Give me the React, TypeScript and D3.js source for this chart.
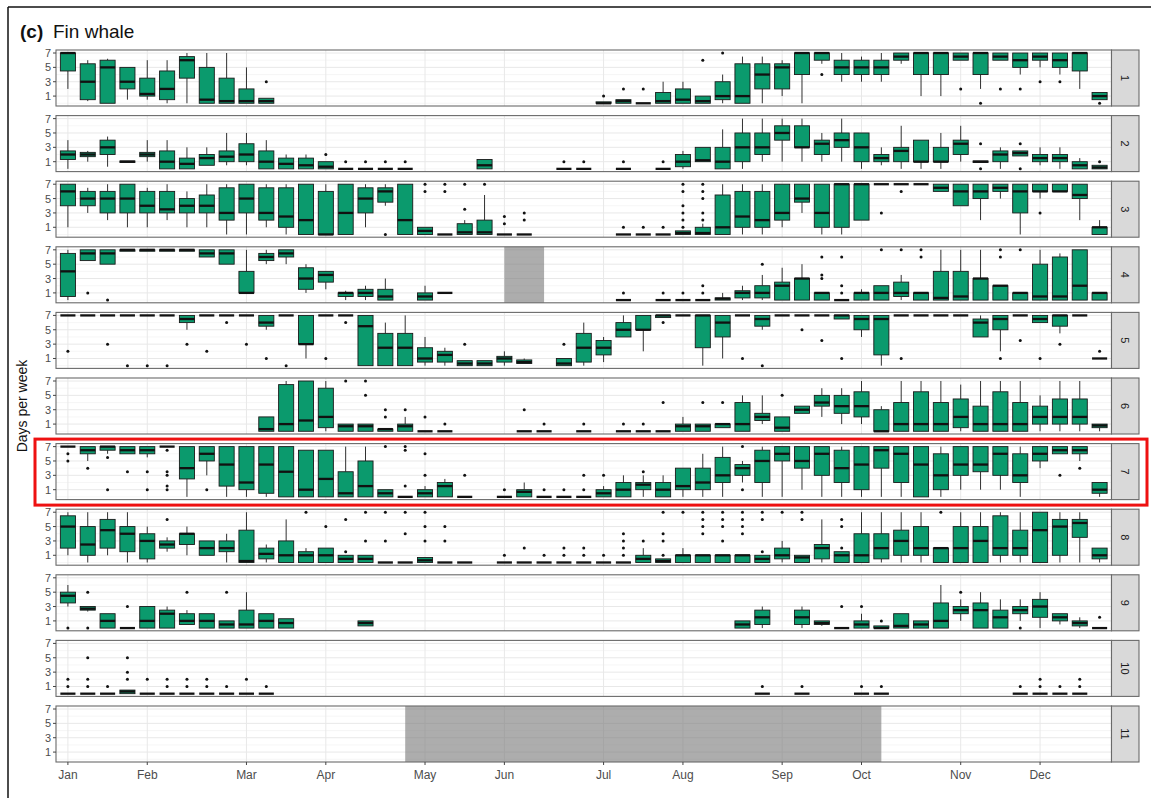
import React from 'react';
import * as d3 from 'd3';

// [week, lowerWhisker, q1, median, q3, upperWhisker, outliers]
type Box = [number, number, number, number, number, number, number[]];

const panel1: Box[] = [
  [0, 2, 4.5, 7, 7, 7, []], [1, 0.3, 0.5, 3, 5.5, 6, []], [2, 0, 0, 5, 6, 6.2, []], [3, 0.5, 2, 3, 5, 5, []],
  [4, 0.5, 1, 1.3, 3.5, 6, []], [5, 0, 0.5, 2, 4.5, 6, []], [6, 0, 3.5, 6, 6.5, 7, []], [7, 0, 0, 0.5, 5, 7, []],
  [8, 0, 0, 0.3, 3.5, 7, []], [9, 0, 0, 0.3, 2, 5, []], [10, 0, 0, 0.3, 0.7, 0.7, [3]],
  [27, 0, 0, 0, 0.2, 0.2, [1]], [28, 0, 0, 0.3, 0.5, 0.5, [2]], [29, 0, 0, 0, 0, 0, [2]], [30, 0, 0, 0.3, 1.5, 3, []],
  [31, 0, 0, 0.5, 2, 3, []], [32, 0, 0, 0.3, 1, 1, [6]], [33, 0, 0.5, 1, 3, 4, [7]], [34, 0, 0, 1, 5.5, 6.5, []],
  [35, 0, 2, 4, 5.5, 6.5, []], [36, 1, 2, 5, 5.5, 6, []], [37, 0, 4, 7, 7, 7, []], [38, 5.5, 6, 7, 7, 7, [4]],
  [39, 3, 4, 5, 6, 7, []], [40, 3, 4, 5, 6, 6.5, []], [41, 3, 4, 5, 6, 7, []], [42, 5.5, 6, 6.5, 7, 7, []],
  [43, 1, 4, 7, 7, 7, []], [44, 1, 4, 7, 7, 7, []], [45, 6, 6, 6.5, 7, 7, [2]], [46, 2, 4, 7, 7, 7, [0]],
  [47, 6, 6, 6.5, 7, 7, [2]], [48, 4, 5, 6, 7, 7, [2]], [49, 5, 6, 6.5, 7, 7, [3]], [50, 4, 5, 6, 7, 7, [3]],
  [51, 2, 4.5, 7, 7, 7, []], [52, 0.5, 0.5, 1, 1.5, 1.5, [0]],
];

const panel2: Box[] = [
  [0, 0, 1.3, 2, 2.5, 4, []], [1, 1, 1.7, 2, 2.3, 2.5, []], [2, 0.3, 2, 3, 4, 4.5, []], [3, 0.9, 0.9, 1, 1.1, 1.1, []],
  [4, 1, 1.7, 2, 2.3, 4, []], [5, 0, 0, 1, 2.5, 4, []], [6, 0, 0, 0.7, 1.5, 3, []], [7, 0.5, 0.5, 1.5, 2, 3, []],
  [8, 0.5, 1, 1.7, 2.5, 5, []], [9, 0.5, 1, 2, 3.5, 5, []], [10, 0, 0, 1, 2.5, 4, []], [11, 0, 0, 0.7, 1.5, 2, []],
  [12, 0, 0, 0.5, 1.5, 2, []], [13, 0, 0, 0.3, 1, 1, [2]], [14, 0, 0, 0, 0, 0, [1]], [15, 0, 0, 0, 0, 0, [1]],
  [16, 0, 0, 0, 0, 0, [1]], [17, 0, 0, 0, 0, 0, [1]], [21, 0, 0, 0.5, 1.3, 1.3, []],
  [25, 0, 0, 0, 0, 0, [1]], [26, 0, 0, 0, 0, 0, [1]], [28, 0, 0, 0, 0, 0, [1]], [30, 0, 0, 0, 0, 0, [1]],
  [31, 0, 0.3, 1, 2, 2.5, []], [32, 1, 1, 1.2, 3, 3, []], [33, 0, 0, 1, 3, 5.5, []], [34, 0, 1, 3, 5, 7, []],
  [35, 1, 2, 3, 5, 7, []], [36, 1, 4, 5, 6, 7, []], [37, 1, 3, 3, 6, 7, []], [38, 1, 2, 3.5, 4, 5, []],
  [39, 1, 3, 4, 5, 7, []], [40, 0, 1, 3, 5, 5, []], [41, 0.5, 1, 1.5, 2, 3, []], [42, 0, 1, 2.5, 3, 6, []],
  [43, 0, 1, 1, 4, 4, []], [44, 0, 1, 1, 3, 5, []], [45, 1, 2, 3.5, 4, 6, []], [46, 0.9, 0.9, 1, 1.1, 1.1, [3.5, 0]],
  [47, 0, 1, 2, 2.5, 3, []], [48, 1.8, 1.8, 2.2, 2.5, 2.5, [3.5, 0]], [49, 0.5, 1, 1.5, 2, 3, []],
  [50, 0, 1, 1.5, 2, 3, []], [51, 0, 0, 0.5, 1, 1.5, []], [52, 0, 0, 0.2, 0.5, 0.5, [1]],
];

const panel3: Box[] = [
  [0, 1, 4, 6, 7, 7, []], [1, 3, 4, 5, 6, 6.5, []], [2, 2, 3, 5, 6, 7, []], [3, 1, 3, 5, 7, 7, []],
  [4, 1, 3, 4, 6, 6.5, []], [5, 2, 3, 3.5, 6, 7, []], [6, 1, 3, 4, 5, 6, []], [7, 1, 3, 4, 5.5, 7, []],
  [8, 0, 2, 3, 6.5, 7, []], [9, 0, 3, 5, 7, 7, []], [10, 1, 2, 3, 6.5, 7, []], [11, 0, 1, 2.5, 6.5, 7, []],
  [12, 0, 0, 2, 7, 7, []], [13, 0, 0, 0, 6, 7, []], [14, 0, 0, 3, 7, 7, []], [15, 1, 3, 5, 6.5, 7, []],
  [16, 4, 4.5, 6, 6.5, 7, [0]], [17, 0, 0, 2, 7, 7, []], [18, 0, 0, 0.5, 1, 1, [6, 7]], [19, 0, 0, 0, 0, 0, [6, 7]],
  [20, 0, 0, 0.3, 1.5, 2, [3.5, 7]], [21, 0, 0, 0.3, 2, 5.5, [7]], [22, 0, 0, 0, 0, 0, [1.5, 2.5]], [23, 0, 0, 0, 0, 0, [2, 3]],
  [28, 0, 0, 0, 0, 0, [1]], [29, 0, 0, 0, 0, 0, [1]], [30, 0, 0, 0, 0, 0, [1]],
  [31, 0, 0, 0.2, 0.5, 0.5, [1, 2, 3, 4, 6, 7]], [32, 0, 0, 0.2, 1, 1.5, [2, 3, 5, 6, 7]],
  [33, 0, 0, 1, 5.5, 7, []], [34, 0, 1, 2.5, 6, 7, []], [35, 0, 1, 2, 6, 7, []], [36, 1, 2, 3, 7, 7, []],
  [37, 3, 4.5, 5, 7, 7, []], [38, 0, 1, 3, 7, 7, []], [39, 0, 1, 7, 7, 7, []], [40, 2, 2, 7, 7, 7, []],
  [41, 7, 7, 7, 7, 7, [3]], [42, 7, 7, 7, 7, 7, [6]], [43, 7, 7, 7, 7, 7, []], [44, 6, 6, 6.5, 7, 7, []],
  [45, 4, 4, 6, 7, 7, []], [46, 2, 5, 6, 7, 7, []], [47, 5, 6, 6.5, 7, 7, []], [48, 0, 3, 6, 7, 7, []],
  [49, 5, 6, 6, 7, 7, [3]], [50, 6, 6, 6, 7, 7, []], [51, 2, 5, 5.5, 7, 7, []], [52, 0, 0, 1, 1, 2, []],
];

const panel4: Box[] = [
  [0, 0, 0.5, 4, 6.5, 7, []], [1, 5.5, 5.5, 6.5, 7, 7, [1]], [2, 5, 5, 6.5, 7, 7, [0]], [3, 6.8, 6.8, 7, 7, 7, []],
  [4, 6.8, 6.8, 7, 7, 7, []], [5, 6.8, 6.8, 7, 7, 7, []], [6, 6.8, 6.8, 7, 7, 7, []], [7, 6, 6, 6.5, 7, 7, []],
  [8, 5, 5, 6.5, 7, 7, []], [9, 1, 1, 1, 4, 7, []], [10, 5, 5.5, 6, 6.5, 7, []], [11, 5, 6, 6.5, 7, 7, []],
  [12, 1, 1.5, 3, 4.5, 5, []], [13, 1.5, 2.5, 3.5, 4, 4, []], [14, 0, 0.5, 1, 1, 1.3, []], [15, 0, 0.5, 1, 1.5, 2, []],
  [16, 0, 0, 0.5, 1.5, 3, []], [18, 0, 0, 0.5, 1, 2, []], [19, 1, 1, 1, 1, 1, []],
  [28, 0, 0, 0, 0, 0, [1]], [30, 0, 0, 0, 0, 0, [1]], [31, 0, 0, 0, 0, 0, [1]], [32, 0, 0, 0, 0, 0, [1, 2]],
  [33, 0, 0, 0.2, 0.3, 1, []], [34, 0, 0.3, 1, 1.3, 2, []], [35, 0, 0.3, 1, 2, 3.5, [5]], [36, 0, 0, 2, 2.5, 4.5, []],
  [37, 0, 0, 3, 3, 5, []], [38, 0, 0, 1, 1, 1, [3, 3.5, 6]], [39, 0, 0, 0, 0, 0, [1, 2, 6]], [40, 0, 0, 1, 1, 1.5, []],
  [41, 0, 0, 1, 2, 2, [7]], [42, 0, 0.5, 1, 2.5, 3.5, [7]], [43, 0, 0, 1, 1, 1, [6, 7]], [44, 0, 0, 0.3, 4, 7, []],
  [45, 0, 0, 0.5, 4, 7, []], [46, 0, 0, 3, 3, 7, []], [47, 0, 0, 2, 2, 2, [6, 7]], [48, 0, 0, 1, 1, 1, [7]],
  [49, 0, 0, 0.5, 5, 7, []], [50, 0, 0, 0.5, 6, 6.5, []], [51, 0, 0, 2, 7, 7, []], [52, 0, 0, 1, 1, 1, []],
];

const panel5: Box[] = [
  [0, 7, 7, 7, 7, 7, [2]], [1, 7, 7, 7, 7, 7, []], [2, 7, 7, 7, 7, 7, [3]], [3, 7, 7, 7, 7, 7, [0]],
  [4, 7, 7, 7, 7, 7, [0]], [5, 7, 7, 7, 7, 7, [0]], [6, 5, 6, 6.5, 7, 7, [3]], [7, 7, 7, 7, 7, 7, [2]],
  [8, 7, 7, 7, 7, 7, [6]], [9, 7, 7, 7, 7, 7, [3]], [10, 5, 5.5, 6, 7, 7, [1]], [11, 7, 7, 7, 7, 7, [0]],
  [12, 1, 3, 3, 7, 7, []], [13, 7, 7, 7, 7, 7, [1]], [14, 7, 7, 7, 7, 7, [6]], [15, 0, 0, 5.5, 7, 7, []],
  [16, 0, 0, 2.5, 4.5, 6, []], [17, 0, 0, 2.5, 4.5, 7, []], [18, 0, 0.5, 1, 2.5, 4, []], [19, 0, 0.5, 1.5, 2, 2.5, []],
  [20, 0, 0, 0.3, 0.7, 0.7, [3]], [21, 0, 0, 0.3, 0.7, 0.7, []], [22, 0, 0.5, 1, 1.3, 2, []], [23, 0.3, 0.3, 0.5, 0.8, 1, []],
  [25, 0, 0, 0.3, 1, 1, [3]], [26, 0, 0.5, 2.5, 4.5, 6, []], [27, 0.5, 1.5, 2.5, 3.5, 4, []], [28, 4, 4, 5, 6, 7, []],
  [29, 2, 5, 5, 7, 7, []], [30, 6.7, 6.7, 7, 7, 7, [6]], [31, 7, 7, 7, 7, 7, []], [32, 0, 2.5, 7, 7, 7, []],
  [33, 1, 4, 6, 7, 7, []], [34, 7, 7, 7, 7, 7, [1]], [35, 5, 5.5, 6.5, 7, 7, [0]], [36, 7, 7, 7, 7, 7, []],
  [37, 7, 7, 7, 7, 7, [5]], [38, 7, 7, 7, 7, 7, [3.5]], [39, 6.5, 6.5, 7, 7, 7, [1]], [40, 4, 5, 6.5, 7, 7, []],
  [41, 0, 1.5, 6.5, 7, 7, []], [42, 7, 7, 7, 7, 7, [1]], [43, 7, 7, 7, 7, 7, []], [44, 7, 7, 7, 7, 7, []],
  [45, 7, 7, 7, 7, 7, []], [46, 4, 4, 6, 6.5, 7, []], [47, 2, 5, 6.5, 7, 7, [1]], [48, 7, 7, 7, 7, 7, [3.5]],
  [49, 6, 6, 6.5, 7, 7, [1]], [50, 4.5, 5.5, 7, 7, 7, [3]], [51, 7, 7, 7, 7, 7, []], [52, 1, 1, 1, 1, 1, [2]],
];

const panel6: Box[] = [
  [10, 0, 0, 0.3, 2, 2, []], [11, 0, 0, 1, 6.5, 7, []], [12, 0, 0, 1.5, 7, 7, []], [13, 0, 0.5, 2, 6, 7, []],
  [14, 0, 0, 0.7, 1, 1, [7]], [15, 0, 0, 0.7, 1, 1, [5, 7]], [16, 0, 0, 0.3, 0.3, 0.3, [2, 3]], [17, 0, 0, 0.7, 1, 2, [3]],
  [18, 0, 0, 0, 0, 0, [2]], [19, 0, 0, 0, 0, 0, [1]], [23, 0, 0, 0, 0, 0, [3]], [24, 0, 0, 0, 0, 0, [1]],
  [26, 0, 0, 0, 0, 0, [1]], [28, 0, 0, 0, 0, 0, [1]], [29, 0, 0, 0, 0, 0, [1]], [30, 0, 0, 0, 0, 0, [4]],
  [31, 0, 0, 0.7, 1, 2, []], [32, 0, 0, 0.7, 1, 1, [4]], [33, 0.5, 0.5, 1, 1, 1, [4]], [34, 0, 0, 1, 4, 5, []],
  [35, 1, 1.5, 2, 2.5, 5, []], [36, 0, 0, 0.5, 2, 2, [5]], [37, 2.5, 2.5, 3, 3.5, 3.5, []], [38, 2, 3.5, 4, 5, 6, []],
  [39, 1, 2.5, 3.5, 5, 6, []], [40, 1, 2, 3.5, 5.5, 7, []], [41, 0, 0, 0, 3, 3.5, []], [42, 0, 0, 1, 4, 7, []],
  [43, 0, 0, 1, 5.5, 7, []], [44, 0, 0, 1, 4, 7, []], [45, 0, 0.5, 2, 4.5, 6.5, []], [46, 0, 0, 1, 3.5, 7, []],
  [47, 0, 0, 1, 5.5, 7, []], [48, 0, 0, 1, 4, 7, []], [49, 0, 1, 2, 3.5, 5, []], [50, 0, 1, 2, 4.5, 7, []],
  [51, 0, 1, 2, 4.5, 7, []], [52, 0, 0.5, 0.8, 1, 1, []],
];

const panel7: Box[] = [
  [0, 7, 7, 7, 7, 7, [6, 5]], [1, 5, 6, 6.5, 7, 7, [4]], [2, 6, 6.5, 7, 7, 7, [5.5, 1]], [3, 6, 6, 6.5, 7, 7, [3.5]],
  [4, 5.5, 6, 6.5, 7, 7, [3.5, 1]], [5, 7, 7, 7, 7, 7, [6.5, 3.5, 3, 1.5, 1]], [6, 0, 2.5, 4, 7, 7, []], [7, 3, 5, 6, 7, 7, [1]],
  [8, 0, 1.5, 4.5, 7, 7, []], [9, 0, 1, 2, 7, 7, []], [10, 0, 0.5, 4.5, 7, 7, []], [11, 0, 0, 3.5, 7, 7, []],
  [12, 0, 0, 1, 6.5, 6.5, []], [13, 0, 0, 2.5, 6.5, 6.5, []], [14, 0, 0, 0.5, 3.5, 7, []], [15, 0, 0, 1.5, 5, 7, []],
  [16, 0, 0, 0.5, 1, 1, [7]], [17, 0, 0, 0, 0, 0, [7, 6.5, 1.5]], [18, 0, 0, 0.5, 1, 1.5, [3, 6]], [19, 0, 0, 1.5, 2, 2.5, []],
  [20, 0, 0, 0, 0, 0, [3]], [22, 0, 0, 0, 0, 0, [1]], [23, 0, 0, 0.7, 1, 2, []], [24, 0, 0, 0, 0, 0, [1]],
  [25, 0, 0, 0, 0, 0, [1]], [26, 0, 0, 0, 0, 0, [1, 3]], [27, 0, 0, 0.5, 1, 1.5, [3]], [28, 0, 0, 1, 2, 3, []],
  [29, 0, 1, 1.7, 2, 3, [3.5]], [30, 0, 0, 1, 2, 3, []], [31, 0, 1, 1.5, 4, 4, []], [32, 0, 1, 2, 4, 6, []],
  [33, 0, 2, 3, 5.5, 7, []], [34, 2, 3, 4, 4.5, 5, [7, 1]], [35, 0, 2, 5, 6.5, 7, []], [36, 0, 5, 6, 7, 7, []],
  [37, 1, 4, 5, 7, 7, []], [38, 0, 3, 6, 7, 7, []], [39, 0, 2, 4, 6.5, 7, []], [40, 0, 1, 4.5, 7, 7, []],
  [41, 0, 4, 6.5, 7, 7, []], [42, 0, 2, 6, 7, 7, []], [43, 0, 0, 4.5, 7, 7, []], [44, 0, 1, 3, 6, 7, []],
  [45, 1, 3, 4.5, 7, 7, []], [46, 1, 3.5, 4.5, 7, 7, []], [47, 1, 3, 6, 7, 7, []], [48, 0, 2, 3, 6, 7, []],
  [49, 4, 5, 6, 7, 7, []], [50, 6, 6, 6.5, 7, 7, [3]], [51, 5, 6, 6.5, 7, 7, [4]], [52, 0, 0.5, 1, 2, 2, []],
];

const panel8: Box[] = [
  [0, 1, 2, 5, 6.5, 7, []], [1, 0, 1, 2.5, 5, 7, []], [2, 1, 2, 4.5, 6, 7, []], [3, 0, 1.5, 4, 5, 7, []],
  [4, 0, 0.5, 3, 4, 5, []], [5, 1.5, 2, 2.5, 3, 3.5, [6]], [6, 1, 2.5, 4, 4, 5, []], [7, 1, 1, 2, 3, 3, []],
  [8, 0, 1.5, 2, 3, 4, []], [9, 0, 0, 0.2, 4.5, 7, []], [10, 0, 0.5, 1.2, 2, 2.5, []], [11, 0, 0, 1, 3, 6, []],
  [12, 0, 0, 1, 1.5, 2, [7]], [13, 0, 0, 1, 2, 2, [5]], [14, 0, 0, 0.5, 1, 1, [1.5, 6]], [15, 0, 0, 0.5, 1, 1, [7, 3]],
  [16, 0, 0, 0, 0, 0, [7, 3]], [17, 0, 0, 0, 0, 0, [7, 4]], [18, 0, 0, 0.3, 0.7, 0.7, [7, 5, 3]], [19, 0, 0, 0, 0, 0, [5, 3]],
  [20, 0, 0, 0, 0, 0, []], [22, 0, 0, 0, 0, 0, [1]], [23, 0, 0, 0, 0, 0, [2]], [24, 0, 0, 0, 0, 0, [1]],
  [25, 0, 0, 0, 0, 0, [1, 2]], [26, 0, 0, 0, 0, 0, [1, 2]], [27, 0, 0, 0, 0, 0, [1]], [28, 0, 0, 0, 0, 0, [1, 2, 3, 4]],
  [29, 0, 0, 0.5, 1, 2, [3]], [30, 0, 0, 0.2, 0.5, 0.5, [1, 3, 4, 7]], [31, 0, 0, 1, 1, 2, [7]], [32, 0, 0, 1, 1, 1, [4, 5, 6, 7]],
  [33, 0, 0, 1, 1, 1, [3, 5, 6, 7]], [34, 0, 0, 1, 1, 1, [4, 5, 6, 7]], [35, 0, 0, 0.5, 1, 1, [1.5, 6, 7]], [36, 0, 0.5, 1, 2, 3, [7]],
  [37, 0, 0, 0.7, 1, 1, [6, 7]], [38, 0, 0.5, 2, 2.5, 6, []], [39, 0, 0, 1, 1.5, 1.5, [2, 5, 6]], [40, 0, 0, 1, 4, 7, []],
  [41, 0, 0.5, 2, 4, 7, []], [42, 0, 1, 3, 4.5, 7, []], [43, 0, 1, 2, 5, 7, []], [44, 0, 0, 2, 2, 2, [7]],
  [45, 0, 0, 2, 5, 7, []], [46, 0, 0, 3, 5, 7, []], [47, 0, 1, 2, 6.5, 7, []], [48, 0, 1, 2, 4.5, 7, []],
  [49, 0, 0, 4.5, 7, 7, []], [50, 0, 1, 5, 6, 7, []], [51, 0, 3.5, 5.5, 6, 7, []], [52, 0, 0.5, 1, 2, 2, []],
];

const panel9: Box[] = [
  [0, 3, 3.5, 4.5, 5, 6, [0]], [1, 2.3, 2.5, 2.7, 3, 3, [5, 0]], [2, 0, 0, 1, 2, 2, []], [3, 0, 0, 0, 0, 0, [3]],
  [4, 0, 0, 1, 3, 3, []], [5, 0, 0, 2, 2.5, 3, []], [6, 0.5, 0.5, 1, 2, 2.5, [5]], [7, 0, 0, 1, 2, 2, []],
  [8, 0, 0, 0.5, 1, 1, [5]], [9, 0, 0, 0.5, 2.5, 5, []], [10, 0, 0, 1, 2, 2, []], [11, 0, 0, 0.7, 1.3, 1.3, []],
  [15, 0.3, 0.3, 0.7, 1, 1, []],
  [34, 0, 0, 0.5, 1, 1, []], [35, 0, 0.5, 1.5, 2.5, 3, []], [37, 0, 0.5, 1.5, 2.5, 3, []], [38, 0.3, 0.5, 0.7, 1, 1, []],
  [39, 0, 0, 0, 0, 0, [3]], [40, 0, 0, 0.5, 1, 2, [3]], [41, 0, 0, 0, 0.3, 0.3, [1]], [42, 0, 0, 0.3, 2, 2, []],
  [43, 0, 0, 0.5, 1, 1, []], [44, 0, 0, 1, 3.5, 6, []], [45, 1, 2, 2.5, 3, 4, [5]], [46, 0, 0, 2.5, 3.5, 5, []],
  [47, 0, 0, 1.5, 2.5, 4, []], [48, 1, 2, 2.5, 3, 4, [0]], [49, 0, 1.5, 3, 4, 5, []], [50, 0.5, 1, 1.5, 2, 2, []],
  [51, 0, 0.3, 0.7, 1, 1.5, []], [52, 0, 0, 0, 0, 0, [1.5]],
];

const panel10: Box[] = [
  [0, 0, 0, 0, 0, 0, [1, 2]], [1, 0, 0, 0, 0, 0, [1, 2, 5]], [2, 0, 0, 0, 0, 0, [1]], [3, 0, 0, 0.3, 0.5, 0.5, [2, 3, 5]],
  [4, 0, 0, 0, 0, 0, [2]], [5, 0, 0, 0, 0, 0, [1, 2]], [6, 0, 0, 0, 0, 0, [1, 2]], [7, 0, 0, 0, 0, 0, [1, 2]],
  [8, 0, 0, 0, 0, 0, [1]], [9, 0, 0, 0, 0, 0, [2]], [10, 0, 0, 0, 0, 0, [1]],
  [35, 0, 0, 0, 0, 0, [1]], [37, 0, 0, 0, 0, 0, [1]], [40, 0, 0, 0, 0, 0, [1]], [41, 0, 0, 0, 0, 0, [1]],
  [48, 0, 0, 0, 0, 0, [1]], [49, 0, 0, 0, 0, 0, [1, 2]], [50, 0, 0, 0, 0, 0, [1]], [51, 0, 0, 0, 0, 0, [1, 2]],
];

const panel11: Box[] = [];

const panels: Box[][] = [panel1, panel2, panel3, panel4, panel5, panel6, panel7, panel8, panel9, panel10, panel11];
const panelLabels = ['1', '2', '3', '4', '5', '6', '7', '8', '9', '10', '11'];

// shaded (no-recording) periods: panel index, from week, to week
const shadedPanels = [3, 10];
const shadedFrom = [22, 17];
const shadedTo = [24, 41];

const monthLabels = ['Jan', 'Feb', 'Mar', 'Apr', 'May', 'Jun', 'Jul', 'Aug', 'Sep', 'Oct', 'Nov', 'Dec'];
const monthWeeks = [0, 4, 9, 13, 18, 22, 27, 31, 36, 40, 45, 49];
const yTicks = [1, 3, 5, 7];
const yMinor = [0, 2, 4, 6];
const highlightedPanel = 6;

const W = 1151;
const H = 798;
const PL = 56;
const PR = 1111.5;
const PT = 50;
const PITCH = 65.6;
const PH = 56;
const STRIP_W = 27.5;
const FILL = '#0B9A6D';
const FONT = "'Liberation Sans', Arial, Helvetica, sans-serif";

export default function App() {
  const x = d3.scaleLinear().domain([-0.6, 52.6]).range([PL, PR]);
  const step = x(1) - x(0);
  const bw = 0.76 * step;
  const lastBottom = PT + 10 * PITCH + PH;

  return (
    <svg width={W} height={H} style={{ position: 'absolute', left: 0, top: 0 }} fontFamily={FONT}>
      <rect x={0} y={0} width={W} height={H} fill="#fff" />
      <line x1={8} y1={7} x2={W} y2={7} stroke="#111" strokeWidth={1.5} />
      <line x1={8} y1={7} x2={8} y2={H} stroke="#111" strokeWidth={1.5} />
      <text x={20} y={38} fontSize={19} fontWeight="bold" fill="#111">(c)</text>
      <text x={53} y={38} fontSize={19} fill="#111">Fin whale</text>
      <text
        transform={`translate(27,${(PT + lastBottom) / 2}) rotate(-90)`}
        textAnchor="middle"
        fontSize={14}
        fill="#111"
      >
        Days per week
      </text>
      {panels.map((data, i) => {
        const top = PT + i * PITCH;
        const y = d3.scaleLinear().domain([-0.38, 7.42]).range([top + PH, top]);
        const si = shadedPanels.indexOf(i);
        return (
          <g key={i}>
            <rect x={PL} y={top} width={PR - PL} height={PH} fill="#fff" />
            {yMinor.map((v) => (
              <line key={'mn' + v} x1={PL} x2={PR} y1={y(v)} y2={y(v)} stroke="#F4F4F4" strokeWidth={0.8} />
            ))}
            {yTicks.map((v) => (
              <line key={'mj' + v} x1={PL} x2={PR} y1={y(v)} y2={y(v)} stroke="#E8E8E8" strokeWidth={1} />
            ))}
            {monthWeeks.map((w) => (
              <line key={'v' + w} x1={x(w)} x2={x(w)} y1={top} y2={top + PH} stroke="#E8E8E8" strokeWidth={1} />
            ))}
            {si >= 0 && (
              <rect
                x={x(shadedFrom[si])}
                y={top}
                width={x(shadedTo[si]) - x(shadedFrom[si])}
                height={PH}
                fill="#7a7a7a"
                fillOpacity={0.62}
              />
            )}
            {data.map(([wk, lo, q1, med, q3, hi, outs]) => {
              const cx = x(wk);
              return (
                <g key={wk}>
                  <line x1={cx} x2={cx} y1={y(hi)} y2={y(q3)} stroke="#1a1a1a" strokeWidth={0.9} />
                  <line x1={cx} x2={cx} y1={y(q1)} y2={y(lo)} stroke="#1a1a1a" strokeWidth={0.9} />
                  <rect
                    x={cx - bw / 2}
                    y={y(q3)}
                    width={bw}
                    height={Math.max(y(q1) - y(q3), 0)}
                    fill={FILL}
                    stroke="#1a1a1a"
                    strokeWidth={0.9}
                  />
                  <line x1={cx - bw / 2} x2={cx + bw / 2} y1={y(med)} y2={y(med)} stroke="#111" strokeWidth={2.3} />
                  {outs.map((o, j) => (
                    <circle key={j} cx={cx} cy={y(o)} r={1.5} fill="#111" />
                  ))}
                </g>
              );
            })}
            <rect x={PL} y={top} width={PR - PL} height={PH} fill="none" stroke="#6a6a6a" strokeWidth={1.1} />
            <rect x={PR} y={top} width={STRIP_W} height={PH} fill="#D9D9D9" stroke="#6a6a6a" strokeWidth={1.1} />
            <text
              transform={`translate(${PR + STRIP_W / 2},${top + PH / 2}) rotate(90)`}
              textAnchor="middle"
              dominantBaseline="central"
              fontSize={11}
              fill="#1a1a1a"
            >
              {panelLabels[i]}
            </text>
            {yTicks.map((v) => (
              <g key={'t' + v}>
                <line x1={PL - 3} x2={PL} y1={y(v)} y2={y(v)} stroke="#444" strokeWidth={1} />
                <text x={PL - 5} y={y(v)} textAnchor="end" dominantBaseline="central" fontSize={11} fill="#4d4d4d">
                  {v}
                </text>
              </g>
            ))}
          </g>
        );
      })}
      {monthWeeks.map((w, i) => (
        <g key={'m' + i}>
          <line x1={x(w)} x2={x(w)} y1={lastBottom} y2={lastBottom + 3} stroke="#444" strokeWidth={1} />
          <text x={x(w)} y={lastBottom + 17} textAnchor="middle" fontSize={12} fill="#4d4d4d">
            {monthLabels[i]}
          </text>
        </g>
      ))}
      <rect
        x={35}
        y={PT + highlightedPanel * PITCH - 4.5}
        width={1112}
        height={PH + 10}
        fill="none"
        stroke="#EE1111"
        strokeWidth={3}
      />
    </svg>
  );
}
